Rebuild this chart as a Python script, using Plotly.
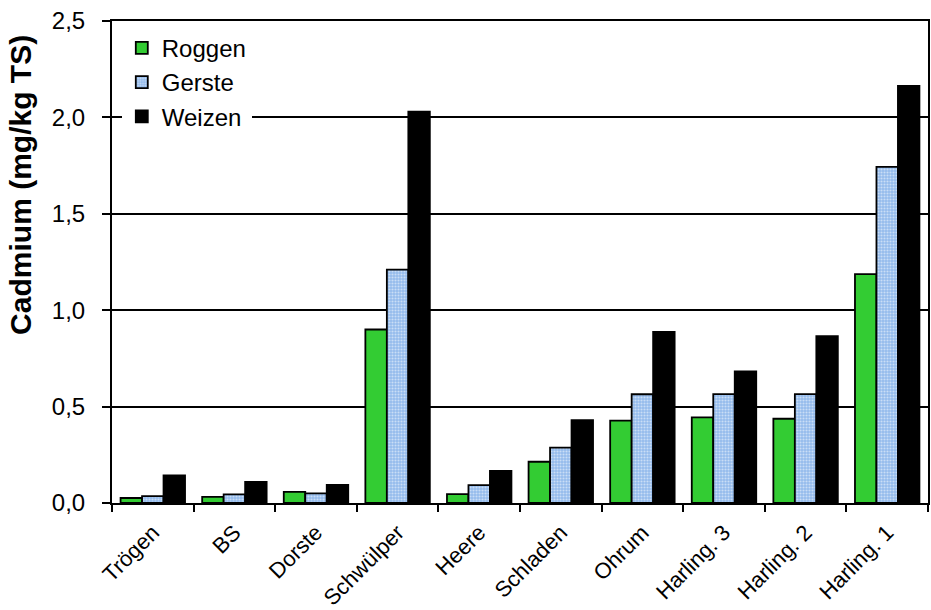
import plotly.graph_objects as go

categories = ["Trögen", "BS", "Dorste", "Schwülper", "Heere", "Schladen",
              "Ohrum", "Harling. 3", "Harling. 2", "Harling. 1"]
roggen = [0.026, 0.032, 0.058, 0.90, 0.046, 0.214, 0.427, 0.444, 0.437, 1.187]
gerste = [0.036, 0.045, 0.050, 1.21, 0.093, 0.287, 0.564, 0.565, 0.565, 1.743]
weizen = [0.143, 0.110, 0.094, 2.03, 0.166, 0.430, 0.887, 0.683, 0.866, 2.163]
y_ticks = [0.0, 0.5, 1.0, 1.5, 2.0, 2.5]
y_tick_labels = ["0,0", "0,5", "1,0", "1,5", "2,0", "2,5"]
y_title = "Cadmium (mg/kg TS)"

FONT = "Liberation Sans, Arial, sans-serif"

fig = go.Figure()
fig.add_trace(go.Bar(name="Roggen", x=categories, y=roggen,
                     marker=dict(color="#33cc33", line=dict(color="black", width=1.8))))
fig.add_trace(go.Bar(name="Gerste", x=categories, y=gerste,
                     marker=dict(color="#a6c6f0", line=dict(color="black", width=1.8),
                                 pattern=dict(shape=".", fgcolor="#ffffff", bgcolor="#94bbec",
                                              size=3, solidity=0.4, fillmode="overlay"))))
fig.add_trace(go.Bar(name="Weizen", x=categories, y=weizen,
                     marker=dict(color="#000000", line=dict(color="black", width=1.8))))

fig.update_layout(
    width=931, height=610,
    margin=dict(l=112, r=3, t=21, b=107),
    plot_bgcolor="white", paper_bgcolor="white",
    barmode="group", bargap=0.21, bargroupgap=0,
    font=dict(family=FONT, size=24, color="black"),
    showlegend=True,
    legend=dict(x=0.012, y=0.99, xanchor="left", yanchor="top",
                bgcolor="white", borderwidth=0,
                font=dict(family=FONT, size=24, color="black"),
                itemwidth=30, tracegroupgap=0),
    annotations=[dict(text="<b>" + y_title + "</b>", textangle=-90,
                      xref="paper", yref="paper", x=0, y=0.66,
                      xanchor="center", yanchor="middle", xshift=-91,
                      showarrow=False,
                      font=dict(family=FONT, size=30, color="black"))],
)
fig.update_xaxes(
    type="category", tickangle=-45, tickson="boundaries", automargin=False,
    ticks="outside", ticklen=7, tickwidth=2, tickcolor="black",
    showline=True, linecolor="black", linewidth=2, mirror=True,
    showgrid=False, ticklabelstandoff=6,
    tickfont=dict(family=FONT, size=22, color="black"),
)
fig.update_yaxes(
    range=[0, 2.5], tickvals=y_ticks, ticktext=y_tick_labels, automargin=False,
    ticks="outside", ticklen=8, tickwidth=2, tickcolor="black",
    showline=True, linecolor="black", linewidth=2, mirror=True,
    showgrid=True, gridcolor="black", gridwidth=1.5, zeroline=False,
    ticklabelstandoff=12,
    tickfont=dict(family=FONT, size=24, color="black"),
)

post = "document.body.style.margin='0';document.body.style.overflow='hidden';"

fig.write_html("out.html", post_script=post,
               config={"displayModeBar": False, "responsive": False})
